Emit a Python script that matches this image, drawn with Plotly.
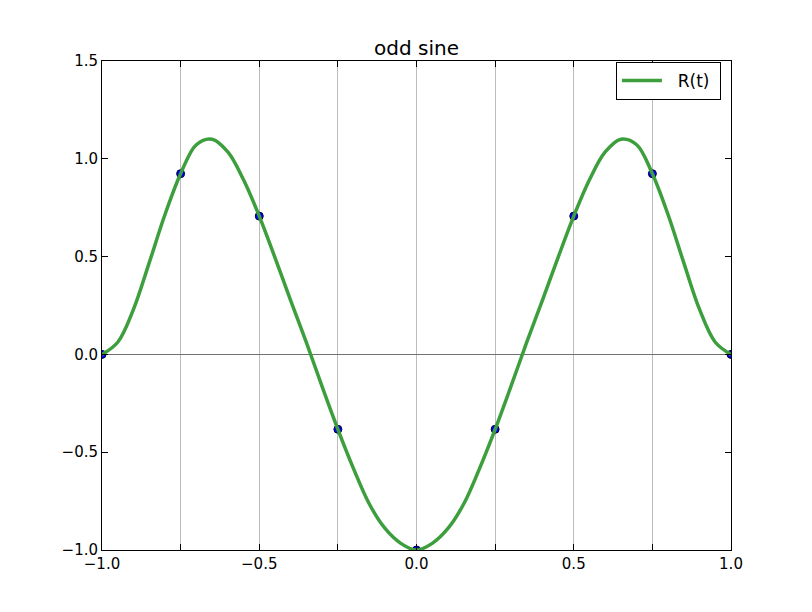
import plotly.graph_objects as go

# sample points (blue dots)
t_pts = [-1.0, -0.75, -0.5, -0.25, 0.0, 0.25, 0.5, 0.75, 1.0]
r_pts = [0.0, 0.924, 0.707, -0.383, -1.0, -0.383, 0.707, 0.924, 0.0]

# curve R(t), every 0.05
t_curve = [-1.0, -0.95, -0.9, -0.85, -0.8, -0.75, -0.7, -0.65, -0.6, -0.55,
           -0.5, -0.45, -0.4, -0.35, -0.3, -0.25, -0.2, -0.15, -0.1, -0.05,
           0.0, 0.05, 0.1, 0.15, 0.2, 0.25, 0.3, 0.35, 0.4, 0.45,
           0.5, 0.55, 0.6, 0.65, 0.7, 0.75, 0.8, 0.85, 0.9, 0.95, 1.0]
r_curve = [0.0, 0.062, 0.23, 0.468, 0.714, 0.924, 1.072, 1.10, 1.035, 0.893,
           0.707, 0.495, 0.275, 0.06, -0.165, -0.383, -0.585, -0.765, -0.89, -0.966,
           -1.0, -0.966, -0.89, -0.765, -0.585, -0.383, -0.165, 0.06, 0.275, 0.495,
           0.707, 0.893, 1.035, 1.10, 1.072, 0.924, 0.714, 0.468, 0.23, 0.062, 0.0]

x_ticks = [-1.0, -0.75, -0.5, -0.25, 0.0, 0.25, 0.5, 0.75, 1.0]
x_labels = ["\u22121.0", "", "\u22120.5", "", "0.0", "", "0.5", "", "1.0"]
y_ticks = [-1.0, -0.5, 0.0, 0.5, 1.0, 1.5]
y_labels = ["\u22121.0", "\u22120.5", "0.0", "0.5", "1.0", "1.5"]

fig = go.Figure()

fig.add_trace(go.Scatter(
    x=t_pts, y=r_pts,
    mode="markers",
    marker=dict(size=8, color="#0000ff", line=dict(color="#000033", width=1)),
    showlegend=False
))

fig.add_trace(go.Scatter(
    x=t_curve, y=r_curve,
    mode="lines",
    line=dict(color="#3d9e3d", width=3.5, shape="spline", smoothing=1.0),
    name="\u00a0\u00a0R(t)\u00a0"
))

axis_common = dict(
    ticks="inside",
    ticklen=6,
    tickcolor="black",
    showline=True,
    linecolor="black",
    linewidth=1,
    mirror="ticks",
    tickfont=dict(family="DejaVu Sans", size=15, color="black"),
)

# page body adds an 8px offset, so the figure is a bit smaller than the window
fig.update_layout(
    width=796, height=596,
    margin=dict(l=94, r=73, t=53, b=54),
    paper_bgcolor="white",
    plot_bgcolor="white",
    title=dict(text="odd sine", x=0.5, xref="paper", y=0.933, yanchor="middle",
               font=dict(family="DejaVu Sans", size=20, color="black")),
    xaxis=dict(range=[-1, 1], tickvals=x_ticks, ticktext=x_labels,
               showgrid=True, gridcolor="#bdbdbd", gridwidth=1,
               zeroline=False, **axis_common),
    yaxis=dict(range=[-1, 1.5], tickvals=y_ticks, ticktext=y_labels,
               showgrid=False, zeroline=True, zerolinecolor="#707070",
               zerolinewidth=1, **axis_common),
    legend=dict(x=0.984, xanchor="right", y=0.998, yanchor="top",
                bordercolor="black", borderwidth=1, bgcolor="white",
                itemwidth=40, tracegroupgap=0,
                font=dict(family="DejaVu Sans", size=17, color="black")),
)

fig.write_html("out.html")
